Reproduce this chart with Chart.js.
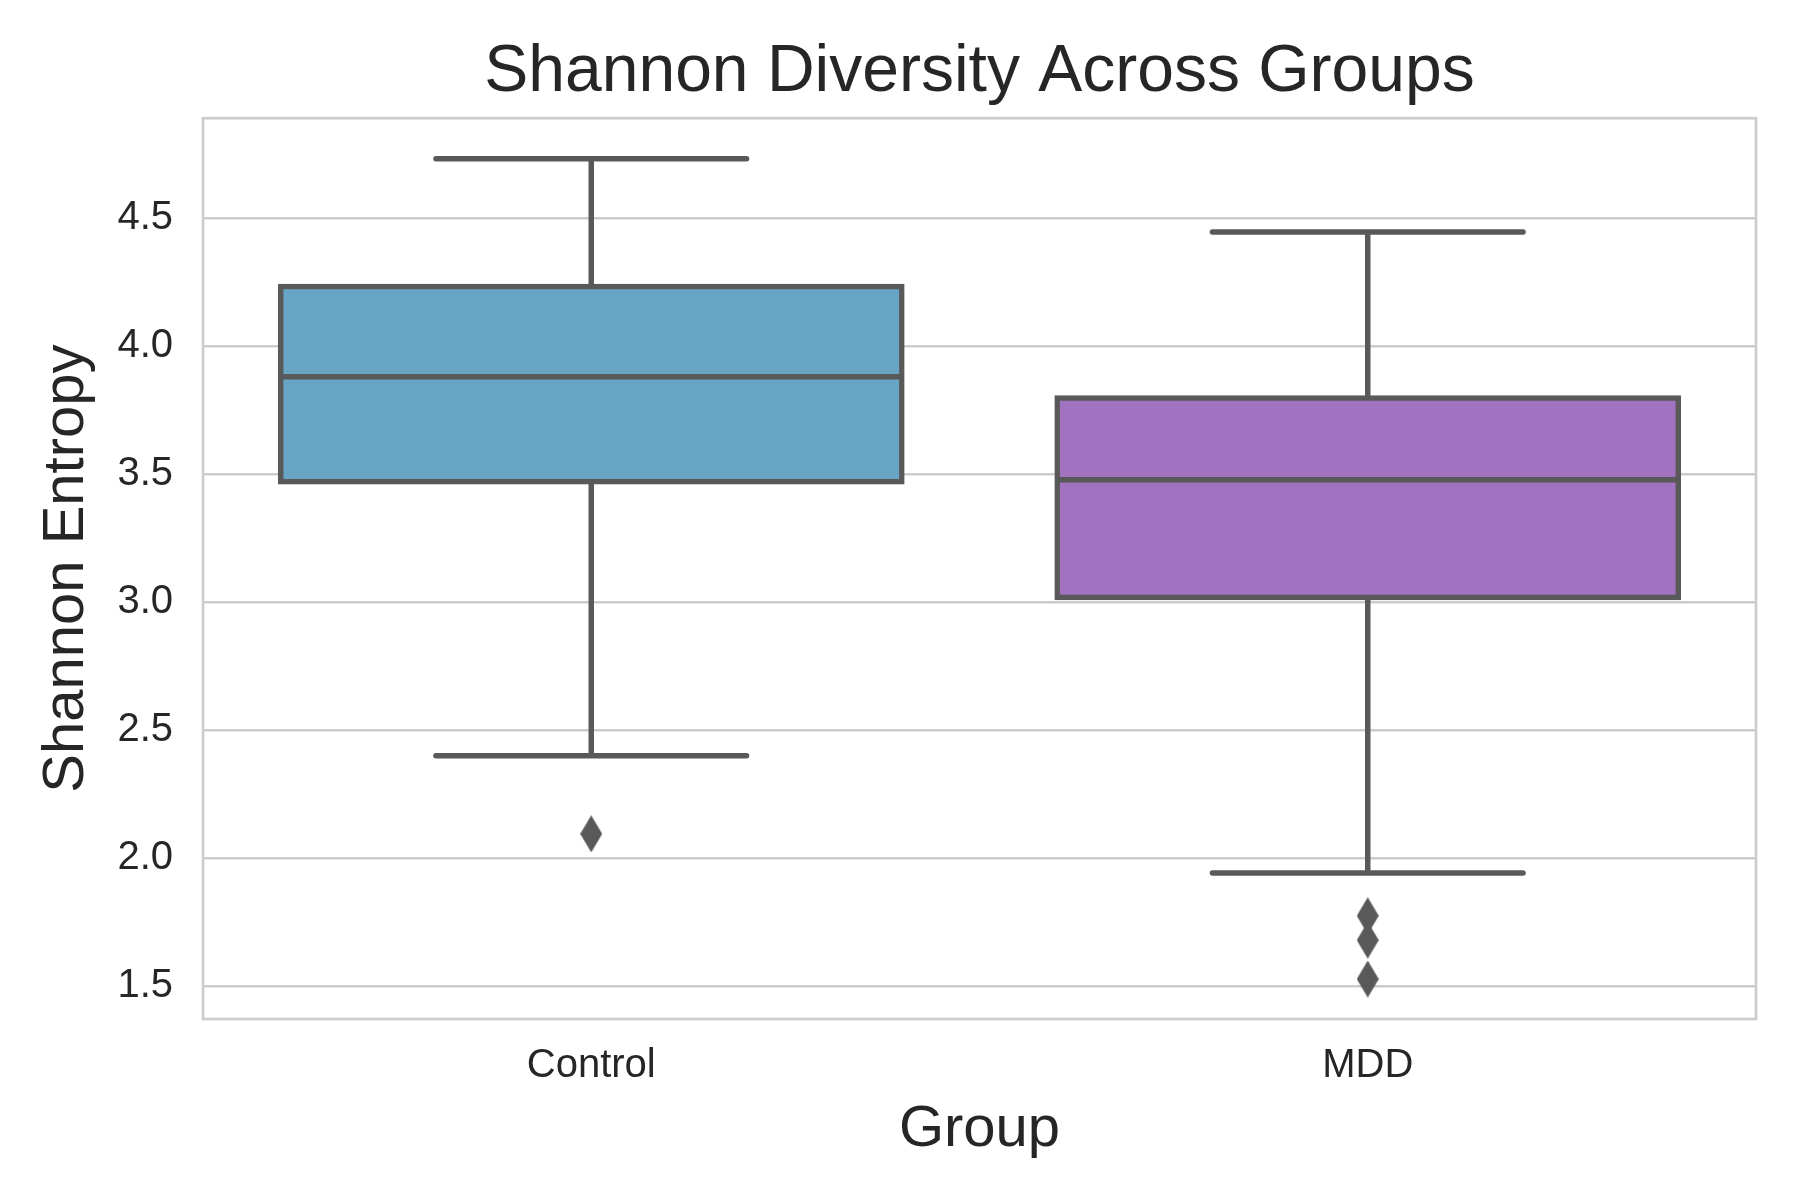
<!DOCTYPE html>
<html lang="en">
<head>
<meta charset="UTF-8">
<title>Shannon Diversity Across Groups</title>
<script src="https://cdn.jsdelivr.net/npm/chart.js"></script>
<style>
    body { margin: 0; background: #ffffff; }
    #wrap { width: 1800px; height: 1200px; }
</style>
</head>
<body>
<div id="wrap"><canvas id="boxChart"></canvas></div>
<script>
// values
const groups = ['Control', 'MDD'];
const whiskerLow = [2.400, 1.942];
const q1 = [3.470, 3.018];
const medians = [3.880, 3.478];
const q3 = [4.233, 3.797];
const whiskerHigh = [4.732, 4.446];
const outliers = [[2.095], [1.775, 1.680, 1.528]];
const yTicks = [1.5, 2.0, 2.5, 3.0, 3.5, 4.0, 4.5];
const boxColors = ['#68a4c4', '#a172c0'];

const lineGrey = '#595959';
const boxHalf = 0.4;   // box width 0.8 of a category
const capHalf = 0.2;

Chart.defaults.font.family = "'Liberation Sans', Arial, sans-serif";
Chart.defaults.color = '#262626';

// turn [ [x1,y1,x2,y2], ... ] into one broken line
function segments(list) {
    let pts = [];
    list.forEach(s => {
        pts.push({x: s[0], y: s[1]}, {x: s[2], y: s[3]}, {x: s[2], y: null});
    });
    return pts;
}

function diamond(w, h, color) {
    let c = document.createElement('canvas');
    c.width = w;
    c.height = h;
    let g = c.getContext('2d');
    g.fillStyle = color;
    g.beginPath();
    g.moveTo(w / 2, 0);
    g.lineTo(w, h / 2);
    g.lineTo(w / 2, h);
    g.lineTo(0, h / 2);
    g.closePath();
    g.fill();
    return c;
}

let medianSegs = groups.map((g, i) => [i - boxHalf, medians[i], i + boxHalf, medians[i]]);
let whiskerSegs = [];
groups.forEach((g, i) => {
    whiskerSegs.push([i, q3[i], i, whiskerHigh[i]]);
    whiskerSegs.push([i, q1[i], i, whiskerLow[i]]);
    whiskerSegs.push([i - capHalf, whiskerHigh[i], i + capHalf, whiskerHigh[i]]);
    whiskerSegs.push([i - capHalf, whiskerLow[i], i + capHalf, whiskerLow[i]]);
});
let outlierPoints = [];
outliers.forEach((list, i) => list.forEach(v => outlierPoints.push({x: i, y: v})));

const framePlugin = {
    id: 'frame',
    beforeDatasetsDraw(chart) {
        const a = chart.chartArea;
        const ctx = chart.ctx;
        ctx.save();
        ctx.strokeStyle = '#cccccc';
        ctx.lineWidth = 2.7;
        ctx.strokeRect(a.left, a.top, a.right - a.left, a.bottom - a.top);
        ctx.restore();
    }
};

new Chart(document.getElementById('boxChart'), {
    type: 'bar',
    data: {
        datasets: [
            {
                type: 'line',
                data: segments(medianSegs),
                borderColor: lineGrey,
                borderWidth: 5.5,
                pointRadius: 0,
                spanGaps: false
            },
            {
                type: 'bar',
                data: groups.map((g, i) => ({x: i, y: [q1[i], q3[i]]})),
                backgroundColor: boxColors,
                borderColor: lineGrey,
                borderWidth: 5.5,
                borderSkipped: false,
                inflateAmount: 2.75,
                categoryPercentage: 0.8,
                barPercentage: 1.0
            },
            {
                type: 'line',
                data: segments(whiskerSegs),
                borderColor: lineGrey,
                borderWidth: 5.5,
                borderCapStyle: 'round',
                pointRadius: 0,
                spanGaps: false
            },
            {
                type: 'scatter',
                data: outlierPoints,
                pointStyle: diamond(22, 37, lineGrey),
                pointRadius: 12,
                backgroundColor: lineGrey
            }
        ]
    },
    options: {
        responsive: true,
        maintainAspectRatio: false,
        devicePixelRatio: 1,
        animation: false,
        events: [],
        layout: { padding: { right: 44 } },
        plugins: {
            legend: { display: false },
            tooltip: { enabled: false },
            title: {
                display: true,
                text: 'Shannon Diversity Across Groups',
                fullSize: false,
                font: { size: 66, weight: 'normal' },
                color: '#262626',
                padding: { top: 33, bottom: 6 }
            }
        },
        scales: {
            x: {
                type: 'linear',
                min: -0.5,
                max: 1.5,
                offset: false,
                afterBuildTicks: scale => { scale.ticks = groups.map((g, i) => ({value: i})); },
                afterFit: scale => { scale.height = 181; },
                grid: { display: false, drawTicks: false, offset: false },
                border: { display: false },
                ticks: {
                    callback: v => groups[v],
                    font: { size: 40 },
                    color: '#262626',
                    padding: 23,
                    maxRotation: 0
                },
                title: {
                    display: true,
                    text: 'Group',
                    font: { size: 58 },
                    color: '#262626',
                    padding: { top: 0, bottom: 35 }
                }
            },
            y: {
                type: 'linear',
                min: 1.372,
                max: 4.89,
                beginAtZero: false,
                afterBuildTicks: scale => { scale.ticks = yTicks.map(v => ({value: v})); },
                afterFit: scale => { scale.width = 203; },
                grid: { color: '#cccccc', lineWidth: 2.5, drawTicks: false },
                border: { display: false },
                ticks: {
                    callback: v => v.toFixed(1),
                    font: { size: 40 },
                    color: '#262626',
                    padding: 30
                },
                title: {
                    display: true,
                    text: 'Shannon Entropy',
                    font: { size: 58 },
                    color: '#262626',
                    padding: { top: 32, bottom: 0 }
                }
            }
        }
    },
    plugins: [framePlugin]
});
</script>
</body>
</html>
